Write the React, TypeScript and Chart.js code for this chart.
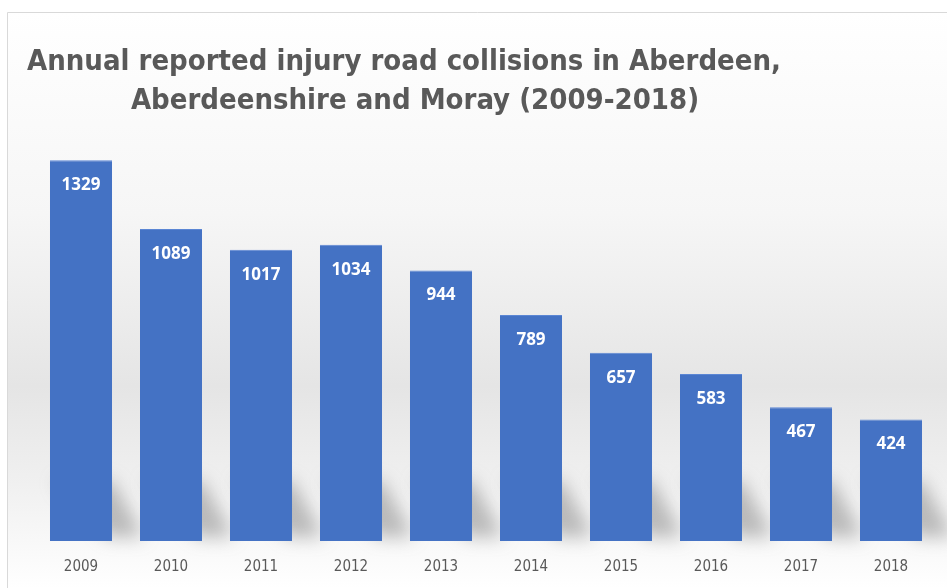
import React, { useEffect, useRef } from "react";
import { Chart, registerables } from "chart.js";

Chart.register(...registerables);

const years = ["2009", "2010", "2011", "2012", "2013", "2014", "2015", "2016", "2017", "2018"];
const collisions = [1329, 1089, 1017, 1034, 944, 789, 657, 583, 467, 424];
const titleLines = ["Annual reported injury road collisions in Aberdeen,", "Aberdeenshire and Moray (2009-2018)"];

const NARROW = '"Liberation Sans Narrow", "DejaVu Sans Condensed", "Open Sans", sans-serif';

const backgroundPlugin = {
  id: "bgFrame",
  beforeDraw(chart: any) {
    const { ctx, width, height } = chart;
    ctx.save();
    ctx.fillStyle = "#ffffff";
    ctx.fillRect(0, 0, width, height);
    const g = ctx.createLinearGradient(0, 12, 0, height);
    g.addColorStop(0, "#ffffff");
    g.addColorStop(0.35, "#f6f6f6");
    g.addColorStop(0.65, "#e5e5e5");
    g.addColorStop(0.82, "#f0f0f0");
    g.addColorStop(1, "#ffffff");
    ctx.fillStyle = g;
    ctx.fillRect(7, 12, width - 7, height - 12);
    ctx.strokeStyle = "#d9d9d9";
    ctx.lineWidth = 1;
    ctx.beginPath();
    ctx.moveTo(7.5, height);
    ctx.lineTo(7.5, 12.5);
    ctx.lineTo(width, 12.5);
    ctx.stroke();
    ctx.restore();
  },
  beforeDatasetsDraw(chart: any) {
    const { ctx } = chart;
    const meta = chart.getDatasetMeta(0);
    ctx.save();
    meta.data.forEach((bar: any) => {
      const half = bar.width / 2;
      const bottom = bar.base;
      const h = Math.min(100, bottom - bar.y);
      ctx.save();
      ctx.filter = "blur(9px)";
      ctx.fillStyle = "rgba(110,110,110,0.45)";
      ctx.beginPath();
      ctx.moveTo(bar.x - half + 4, bottom - h * 0.6);
      ctx.lineTo(bar.x + half, bottom - h * 0.6);
      ctx.lineTo(bar.x + half + 32, bottom - 4);
      ctx.lineTo(bar.x + half - 4, bottom - 4);
      ctx.closePath();
      ctx.fill();
      ctx.restore();
    });
    ctx.restore();
  },
  afterDatasetsDraw(chart: any) {
    const { ctx } = chart;
    const meta = chart.getDatasetMeta(0);
    ctx.save();
    ctx.fillStyle = "#ffffff";
    ctx.font = 'bold 17px "Open Sans", "Liberation Sans", sans-serif';
    ctx.textAlign = "center";
    ctx.textBaseline = "middle";
    meta.data.forEach((bar: any, i: number) => {
      ctx.fillText(String(collisions[i]), bar.x, bar.y + 25);
    });
    ctx.fillStyle = "#595959";
    ctx.font = "bold 29px " + NARROW;
    ctx.textBaseline = "middle";
    ctx.fillText(titleLines[0], 404, 62);
    ctx.fillText(titleLines[1], 415, 101);
    ctx.restore();
  },
};

export default function App() {
  const ref = useRef<HTMLCanvasElement>(null);
  useEffect(() => {
    if (!ref.current) return;
    const chart = new Chart(ref.current, {
      type: "bar",
      data: {
        labels: years,
        datasets: [
          {
            data: collisions,
            backgroundColor: "#4472C4",
            borderColor: "#5b86d4",
            borderWidth: { top: 1, left: 0, right: 0, bottom: 0 } as any,
            barPercentage: 0.69,
            categoryPercentage: 1,
          },
        ],
      },
      options: {
        animation: false,
        responsive: false,
        layout: { padding: { top: 140, left: 36, right: 11, bottom: 0 } },
        plugins: { legend: { display: false }, tooltip: { enabled: false }, title: { display: false } },
        scales: {
          x: {
            grid: { display: false, drawTicks: false },
            border: { display: false },
            ticks: { color: "#595959", font: { family: NARROW, size: 15 }, padding: 17 },
            afterFit(scale: any) {
              scale.height = 47;
            },
          },
          y: { display: false, min: 0, max: 1400 },
        },
      },
      plugins: [backgroundPlugin],
    });
    return () => chart.destroy();
  }, []);
  return (
    <div style={{ position: "absolute", left: 0, top: 0, width: 947, height: 588 }}>
      <canvas ref={ref} width={947} height={588} style={{ width: 947, height: 588, display: "block" }} />
    </div>
  );
}
